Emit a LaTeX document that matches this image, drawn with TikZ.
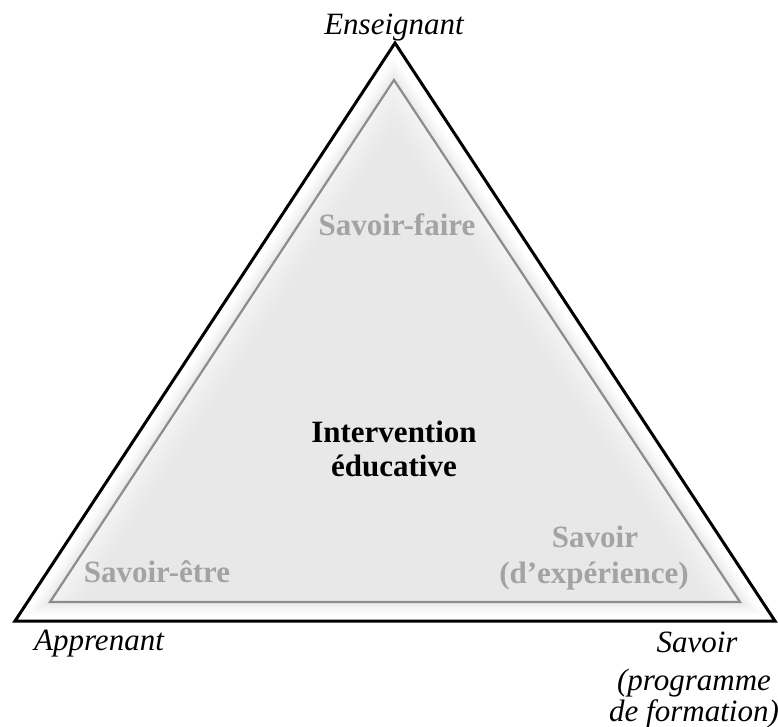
\documentclass[tikz,border=0pt]{standalone}
\usepackage{fontspec}
\setmainfont{Liberation Serif}
\begin{document}
\begin{tikzpicture}[x=1pt,y=-1pt,
  lab/.style={anchor=base,inner sep=0pt,font=\fontsize{31}{36}\selectfont\itshape},
  graylab/.style={anchor=base,inner sep=0pt,text=black!36,font=\fontsize{31}{36}\selectfont\bfseries},
  mainlab/.style={anchor=base,inner sep=0pt,text=black,font=\fontsize{31}{36}\selectfont\bfseries}]
\useasboundingbox (0,0) rectangle (778,727);
\fill[white] (0,0) rectangle (778,727);
% outer triangle
\coordinate (oA) at (395,43);
\coordinate (oL) at (15,621);
\coordinate (oR) at (775,621);
% inner triangle
\coordinate (iA) at (394,80);
\coordinate (iL) at (50,602);
\coordinate (iR) at (740,602);
\fill[white] (oA) -- (oL) -- (oR) -- cycle;
% soft shadow of inner triangle
\begin{scope}
  \clip (oA) -- (oL) -- (oR) -- cycle;
  \foreach \w in {24,17,11,6}{
    \draw[black,opacity=0.018,line width=\w pt,line join=miter,shift={(5,6)}] (iA) -- (iL) -- (iR) -- cycle;
  }
\end{scope}
\fill[black!9] (iA) -- (iL) -- (iR) -- cycle;
% inner glow on left side
\begin{scope}
  \clip (iA) -- (iL) -- (iR) -- cycle;
  \foreach \w in {50,38,28,20,13,7}{
    \draw[white,opacity=0.13,line width=\w pt] (iR) -- (iA) -- (iL);
  }
\end{scope}
\draw[black!45,line width=2.2pt,line join=miter] (iA) -- (iL) -- (iR) -- cycle;
\draw[black,line width=3pt,line join=miter] (oA) -- (oL) -- (oR) -- cycle;
% labels
\node[lab] (ens) at (394,35) {Enseignant};
\node[lab] (app) at (99,650) {Apprenant};
\node[lab] (sav1) at (697,652) {Savoir};
\node[lab] (sav2) at (694,690) {(programme};
\node[lab] (sav3) at (694,721) {de formation)};
\node[graylab] (sf) at (397,236) {Savoir-faire};
\node[mainlab] (iv1) at (394,442) {Intervention};
\node[mainlab] (iv2) at (394,476) {éducative};
\node[graylab] (se) at (157,582) {Savoir-être};
\node[graylab] (sd1) at (595,547) {Savoir};
\node[graylab] (sd2) at (594,583) {(d’expérience)};
\end{tikzpicture}
\end{document}
